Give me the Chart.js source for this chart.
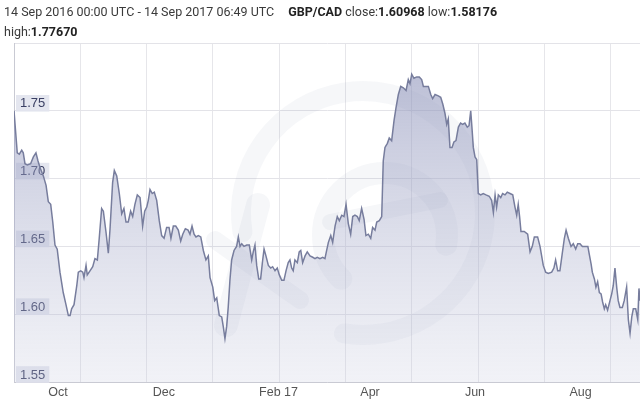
<!DOCTYPE html>
<html><head><meta charset="utf-8">
<script src="https://cdn.jsdelivr.net/npm/chart.js@4.4.0/dist/chart.umd.min.js"></script>
<style>
html,body{margin:0;padding:0;background:#fff;}
#wrap{position:relative;width:640px;height:403px;overflow:hidden;background:#fff;}
#hdr{position:absolute;left:4px;top:2px;font-family:Roboto, "Noto Sans", sans-serif;font-size:12.5px;color:#3a3a3a;line-height:20px;white-space:nowrap;}
#hdr b{font-weight:bold;color:#222;}
#hdr .pair{margin-left:14px;}
canvas{position:absolute;left:0;top:0;}
</style></head>
<body><div id="wrap"><canvas id="c" width="640" height="403"></canvas><div id="hdr"></div></div>
<script>
// ---- header text ----
const rangeText = "14 Sep 2016 00:00 UTC - 14 Sep 2017 06:49 UTC";
const pairName = "GBP/CAD";
const closeVal = "1.60968";
const lowVal = "1.58176";
const highVal = "1.77670";

// ---- x axis: days since 14 Sep 2016 ----
const monthTickDays = [17, 78, 140, 199, 260, 321];
const monthLabels = ["Oct", "Dec", "Feb 17", "Apr", "Jun", "Aug"];
const yTickValues = [1.55, 1.60, 1.65, 1.70, 1.75, 1.80];

// ---- series (day offset, GBP/CAD rate) ----
const days = [0,1.9,3.1,4.5,5.4,6.4,7.8,9.7,11.3,12.8,
14.0,15.2,17.1,18.7,20.0,21.4,22.6,23.9,25.2,26.8,
28.7,30.3,31.7,32.7,33.6,35.0,36.6,37.5,38.9,40.1,
40.8,42.0,42.7,44.3,45.9,47.2,48.6,49.7,51.1,52.1,
53.6,55.0,56.0,57.5,58.5,59.9,61.4,62.8,64.1,65.3,
66.6,68.0,69.2,70.5,71.9,73.5,75.0,76.2,77.4,78.3,
79.3,80.6,81.8,83.2,84.7,86.1,87.5,89.0,90.4,91.5,
92.9,94.3,95.8,97.2,98.4,99.9,101.5,102.6,103.8,105.0,
106.1,107.5,108.9,110.4,111.9,113.3,114.3,115.9,117.0,118.2,
119.7,121.1,122.0,123.0,124.0,124.9,125.9,126.9,128.3,129.8,
130.8,131.8,132.8,134.1,135.7,137.2,138.6,139.5,140.5,141.5,
142.7,143.8,145.0,145.8,146.9,148.3,149.7,150.8,152.2,153.5,
154.7,156.1,157.4,158.6,159.9,160.9,161.9,162.8,163.8,165.2,
166.3,167.2,168.3,169.7,171.0,172.6,174.2,175.5,176.8,178.4,
180.0,181.3,182.3,183.3,184.7,185.8,187.2,188.5,189.7,191.1,
192.4,193.6,194.9,196.3,197.5,198.8,200.2,201.3,202.7,204.1,
205.2,206.6,208.0,209.1,210.5,211.5,213.0,214.4,215.3,216.3,
217.7,218.8,220.2,221.6,222.7,224.1,225.5,227.0,228.6,229.9,
230.9,231.9,233.2,234.8,236.3,237.7,238.7,240.2,241.6,243.0,
244.1,245.5,247.4,248.8,250.0,251.3,252.3,253.2,254.2,255.4,
256.5,257.7,259.1,260.4,261.6,262.9,264.3,265.3,266.3,267.0,
267.8,268.8,269.8,270.7,272.1,273.6,275.2,277.1,278.5,279.5,
280.5,281.4,282.4,283.8,284.9,286.3,287.6,289.2,290.8,292.1,
293.1,294.0,294.8,295.6,297.5,299.5,300.9,302.2,303.4,305.3,
306.7,308.6,310.0,311.5,313.5,314.8,315.8,317.0,318.3,319.7,
320.9,321.9,323.2,324.8,326.1,327.5,328.7,330.0,331.4,333.0,
334.6,335.3,336.5,337.2,338.4,339.3,340.3,341.3,342.3,343.2,
344.2,345.0,346.1,347.5,348.5,349.4,350.4,351.4,352.3,353.3,
354.7,355.8,357.2,358.2,359.2,360.2,361.1,362.5,363.7,364.4,365];

const rates = [1.750,1.719,1.718,1.721,1.719,1.711,1.710,1.711,1.716,1.719,
1.713,1.708,1.702,1.695,1.683,1.681,1.668,1.651,1.648,1.631,
1.616,1.607,1.599,1.599,1.604,1.607,1.621,1.631,1.632,1.631,
1.627,1.636,1.629,1.632,1.635,1.641,1.640,1.656,1.678,1.676,
1.661,1.645,1.663,1.697,1.706,1.702,1.689,1.674,1.678,1.668,
1.668,1.676,1.672,1.681,1.688,1.686,1.665,1.676,1.679,1.684,
1.692,1.689,1.690,1.684,1.669,1.658,1.656,1.664,1.664,1.656,
1.665,1.665,1.662,1.654,1.659,1.663,1.662,1.659,1.665,1.659,
1.657,1.658,1.657,1.647,1.640,1.643,1.627,1.620,1.610,1.612,
1.599,1.598,1.591,1.582,1.591,1.605,1.625,1.640,1.647,1.650,
1.657,1.650,1.652,1.650,1.651,1.651,1.640,1.646,1.651,1.636,
1.626,1.626,1.640,1.648,1.643,1.636,1.634,1.635,1.632,1.634,
1.629,1.625,1.625,1.632,1.638,1.640,1.634,1.632,1.640,1.638,
1.646,1.647,1.638,1.643,1.646,1.643,1.642,1.641,1.642,1.641,
1.642,1.641,1.647,1.653,1.658,1.653,1.665,1.672,1.669,1.673,
1.672,1.681,1.667,1.659,1.672,1.673,1.672,1.669,1.678,1.670,
1.658,1.659,1.656,1.664,1.662,1.668,1.669,1.672,1.713,1.723,
1.726,1.730,1.728,1.743,1.752,1.762,1.768,1.767,1.765,1.773,
1.770,1.777,1.774,1.775,1.775,1.773,1.768,1.768,1.768,1.762,
1.759,1.762,1.761,1.760,1.755,1.748,1.740,1.744,1.723,1.723,
1.727,1.728,1.738,1.741,1.740,1.741,1.738,1.739,1.750,1.738,
1.723,1.716,1.714,1.689,1.688,1.689,1.688,1.687,1.684,1.675,
1.688,1.679,1.688,1.686,1.689,1.688,1.690,1.689,1.688,1.679,
1.673,1.681,1.672,1.661,1.661,1.659,1.646,1.650,1.657,1.657,
1.650,1.636,1.631,1.630,1.631,1.634,1.640,1.632,1.632,1.645,
1.656,1.662,1.656,1.650,1.652,1.648,1.652,1.652,1.650,1.650,
1.650,1.645,1.637,1.631,1.626,1.620,1.624,1.616,1.615,1.609,
1.604,1.607,1.603,1.610,1.615,1.621,1.634,1.620,1.610,1.605,
1.605,1.610,1.620,1.596,1.586,1.598,1.604,1.604,1.596,1.619,1.610];

// vertical grid spacing (days)
const vGridStepDays = 38.66;

// ---- header ----
document.getElementById('hdr').innerHTML =
  rangeText + '<span class="pair"><b>' + pairName + '</b> close:<b>' + closeVal +
  '</b> low:<b>' + lowVal + '</b></span><br>high:<b>' + highVal + '</b>';

const points = days.map((d, i) => ({ x: d, y: rates[i] }));
const vGridDays = [];
for (let d = vGridStepDays; d < 365; d += vGridStepDays) vGridDays.push(d);

// faint background logo watermark (decorative)
const watermark = {
  id: 'watermark',
  beforeDatasetsDraw(chart) {
    const ca = chart.chartArea, c = chart.ctx;
    c.save();
    c.beginPath(); c.rect(ca.left, ca.top, ca.right - ca.left, ca.bottom - ca.top); c.clip();
    c.strokeStyle = 'rgba(110,115,150,0.06)';
    c.lineCap = 'round';
    // outer ring
    c.lineWidth = 20;
    c.beginPath(); c.arc(363, 213, 122, Math.PI * 0.95, Math.PI * 2.55); c.stroke();
    // "x" stroke
    c.lineWidth = 24;
    c.beginPath(); c.moveTo(258, 205); c.lineTo(226, 325); c.stroke();
    c.lineWidth = 18;
    c.beginPath(); c.moveTo(215, 240); c.lineTo(300, 300); c.stroke();
    // "e"
    c.lineWidth = 22;
    c.beginPath(); c.arc(385, 235, 62, Math.PI * 0.75, Math.PI * 2.05); c.stroke();
    c.lineWidth = 16;
    c.beginPath(); c.moveTo(330, 222); c.lineTo(440, 200); c.stroke();
    c.restore();
  }
};

new Chart(document.getElementById('c'), {
  type: 'line',
  data: {
    datasets: [{
      data: points,
      borderColor: '#777d9d',
      borderWidth: 1.5,
      pointRadius: 0,
      tension: 0,
      fill: 'start',
      backgroundColor: (ctx) => {
        const ca = ctx.chart.chartArea;
        if (!ca) return 'rgba(180,184,210,0.4)';
        const g = ctx.chart.ctx.createLinearGradient(0, ca.top, 0, ca.bottom);
        g.addColorStop(0, 'rgba(135,141,182,0.62)');
        g.addColorStop(0.5, 'rgba(160,165,198,0.40)');
        g.addColorStop(1, 'rgba(200,203,222,0.25)');
        return g;
      }
    }]
  },
  plugins: [watermark],
  options: {
    responsive: false,
    animation: false,
    layout: { padding: { top: 43, left: 14, right: 0, bottom: 0 } },
    plugins: { legend: { display: false }, tooltip: { enabled: false } },
    scales: {
      x: {
        type: 'linear', min: 0, max: 365, position: 'bottom',
        afterBuildTicks: (s) => { s.ticks = monthTickDays.map(v => ({ value: v })); },
        afterFit: (s) => { s.height = 21; },
        ticks: {
          autoSkip: false, maxRotation: 0, align: 'start', labelOffset: 5, padding: 3,
          color: '#555', font: { family: '"Liberation Sans", Arial, sans-serif', size: 12.5 },
          callback: (v) => { const i = monthTickDays.indexOf(v); return i >= 0 ? monthLabels[i] : ''; }
        },
        grid: { display: false, drawTicks: false },
        border: { display: true, color: '#c9cad3', width: 1 }
      },
      xg: {
        type: 'linear', min: 0, max: 365, position: 'bottom',
        afterBuildTicks: (s) => { s.ticks = vGridDays.map(v => ({ value: v })); },
        afterFit: (s) => { s.height = 0; },
        ticks: { display: false },
        grid: { color: '#e6e6ea', drawTicks: false, lineWidth: 1 },
        border: { display: false }
      },
      y: {
        min: 1.55, max: 1.80, position: 'left',
        afterBuildTicks: (s) => { s.ticks = yTickValues.map(v => ({ value: v })); },
        afterFit: (s) => { s.width = 0; },
        ticks: {
          mirror: true, padding: 6, labelOffset: -7,
          color: '#3b4064', font: { family: '"Liberation Sans", Arial, sans-serif', size: 13 },
          showLabelBackdrop: true,
          backdropColor: (ctx) => (ctx.tick && ctx.tick.value >= 1.799) ? 'rgba(0,0,0,0)' : 'rgba(226,228,238,0.92)',
          backdropPadding: { top: 1, bottom: 0, left: 4, right: 4 },
          callback: (v) => v >= 1.799 ? '' : v.toFixed(2)
        },
        grid: { color: '#e3e3e8', drawTicks: false, lineWidth: 1 },
        border: { display: true, color: '#c9cad3', width: 1 }
      }
    }
  }
});
</script>
</body></html>
